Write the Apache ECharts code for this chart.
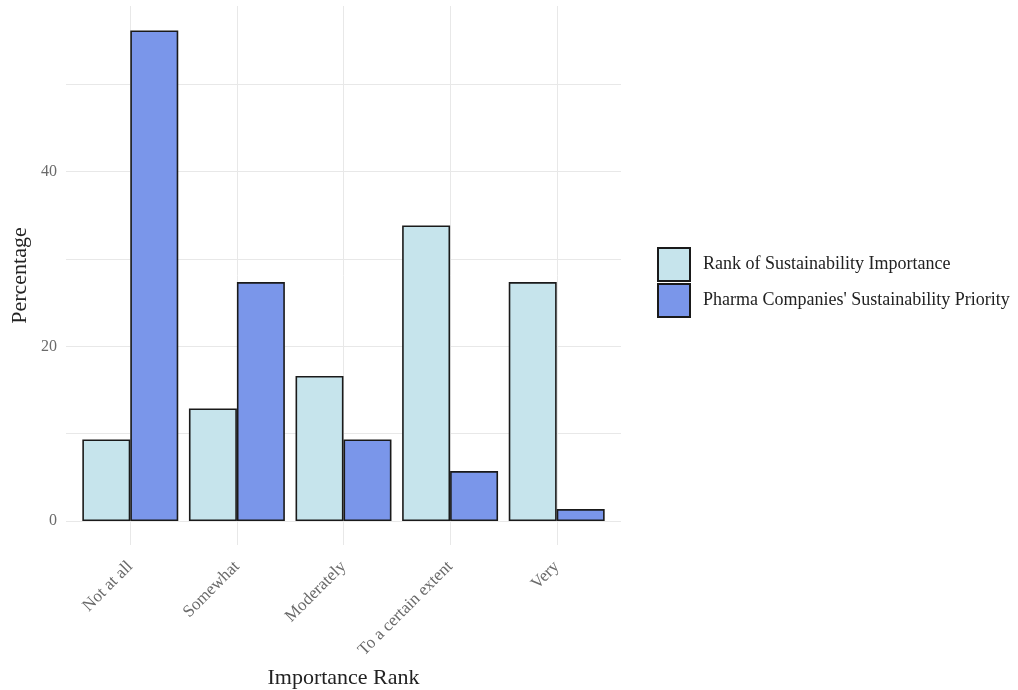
<!DOCTYPE html>
<html>
<head>
<meta charset="utf-8">
<script src="https://cdn.jsdelivr.net/npm/echarts@6/dist/echarts.min.js"></script>
<style>html,body{margin:0;padding:0;background:#fff;}#c{width:1018px;height:690px;}</style>
</head>
<body>
<div id="c"></div>
<script>
const categories = ['Not at all', 'Somewhat', 'Moderately', 'To a certain extent', 'Very'];
const rankImportance = [9.34, 12.88, 16.6, 33.83, 27.35];
const pharmaPriority = [56.15, 27.35, 9.34, 5.71, 1.37];
const yTickLabels = [0, 20, 40];
const seriesNames = ['Rank of Sustainability Importance', "Pharma Companies' Sustainability Priority"];

const FONT = '"Liberation Serif", "DejaVu Serif", serif';
const yMax = Math.max(...pharmaPriority, ...rankImportance) * 1.05;

const chart = echarts.init(document.getElementById('c'), null, {renderer: 'canvas'});
chart.setOption({
  backgroundColor: '#ffffff',
  animation: false,
  grid: [
    {left: 77, right: 408, top: 6, bottom: 169, containLabel: false, outerBoundsMode: 'none'},   // bars
    {left: 66, right: 397, top: 6, bottom: 169, containLabel: false, outerBoundsMode: 'none'},   // horizontal grid + y labels
    {left: 130, right: 461, top: 6, bottom: 145, containLabel: false, outerBoundsMode: 'none'},  // vertical grid lines
    {left: 66, right: 397, top: 6, bottom: 145, containLabel: false, outerBoundsMode: 'none'}    // y axis title
  ],
  xAxis: [
    {gridIndex: 0, type: 'category', data: categories, boundaryGap: true,
     axisLine: {show: false}, axisTick: {show: false}, splitLine: {show: false},
     axisLabel: {rotate: 45, margin: 43, fontSize: 17, color: '#6a6a6a', fontFamily: FONT, interval: 0},
     name: 'Importance Rank', nameLocation: 'middle', nameGap: 146,
     nameTextStyle: {fontSize: 22, color: '#222', fontFamily: FONT}},
    {gridIndex: 1, type: 'value', show: false},
    {gridIndex: 2, type: 'value', min: 0, max: categories.length - 1, interval: 1,
     axisLine: {show: false}, axisTick: {show: false}, axisLabel: {show: false},
     splitLine: {show: true, lineStyle: {color: '#e8e8e8', width: 1}}},
    {gridIndex: 3, type: 'value', show: false}
  ],
  yAxis: [
    {gridIndex: 0, type: 'value', min: 0, max: yMax, show: false},
    {gridIndex: 1, type: 'value', min: 0, max: yMax, interval: 10,
     axisLine: {show: false}, axisTick: {show: false},
     axisLabel: {margin: 9, fontSize: 16, color: '#6a6a6a', fontFamily: FONT,
       formatter: v => (yTickLabels.indexOf(v) >= 0 ? String(v) : '')},
     splitLine: {show: true, showMaxLine: false, lineStyle: {color: '#e8e8e8', width: 1}}},
    {gridIndex: 2, type: 'value', show: false},
    {gridIndex: 3, type: 'value', min: 0, max: 1,
     axisLine: {show: false}, axisTick: {show: false}, axisLabel: {show: false}, splitLine: {show: false},
     name: 'Percentage', nameLocation: 'middle', nameGap: 35,
     nameTextStyle: {fontSize: 22, color: '#222', fontFamily: FONT}}
  ],
  legend: {
    orient: 'vertical', left: 657, top: 247, padding: 0, itemWidth: 32, itemHeight: 33, itemGap: 1,
    icon: 'rect',
    textStyle: {fontSize: 18, color: '#222', fontFamily: FONT, padding: [0, 0, 0, 8]},
    data: seriesNames
  },
  series: [
    {name: seriesNames[0], type: 'bar', xAxisIndex: 0, yAxisIndex: 0, data: rankImportance,
     barGap: '0%', barCategoryGap: '10%',
     itemStyle: {color: '#c6e4ec', borderColor: '#1a1a1a', borderWidth: 1.6}},
    {name: seriesNames[1], type: 'bar', xAxisIndex: 0, yAxisIndex: 0, data: pharmaPriority,
     barGap: '0%', barCategoryGap: '10%',
     itemStyle: {color: '#7a96ea', borderColor: '#1a1a1a', borderWidth: 1.6}}
  ]
});
</script>
</body>
</html>
